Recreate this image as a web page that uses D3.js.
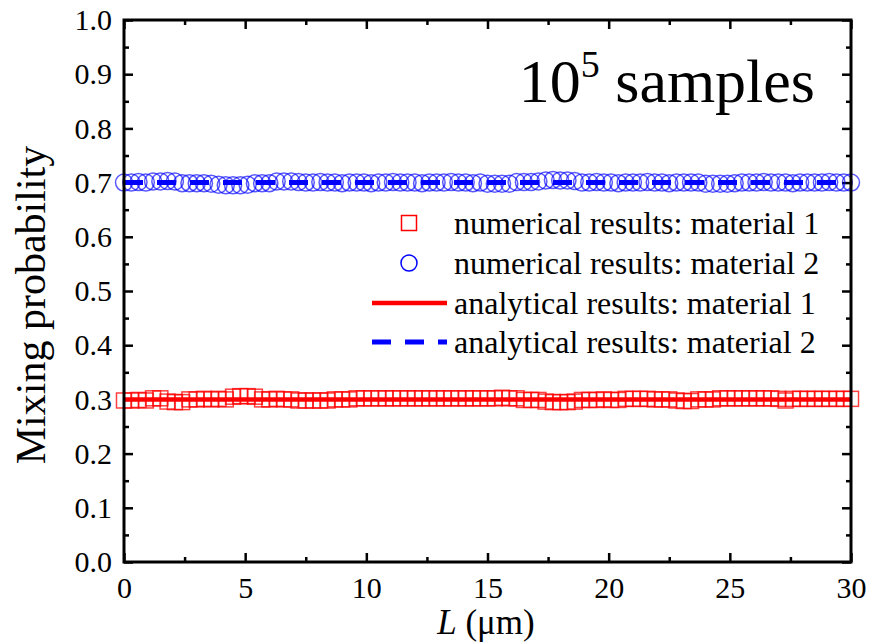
<!DOCTYPE html>
<html>
<head>
  <meta charset="utf-8">
  <script src="https://d3js.org/d3.v7.min.js"></script>
  <style>
    body { margin: 0; background: #fff; }
    text { font-family: "Liberation Serif", "Times New Roman", serif; fill: #000; }
  </style>
</head>
<body>
<svg id="chart" width="869" height="642"></svg>
<script>
// L (um) sample positions
var lValues = [0, 0.3, 0.6, 0.9, 1.2, 1.5, 1.8, 2.1, 2.4, 2.7, 3, 3.3, 3.6, 3.9, 4.2, 4.5, 4.8, 5.1, 5.4, 5.7,
  6, 6.3, 6.6, 6.9, 7.2, 7.5, 7.8, 8.1, 8.4, 8.7, 9, 9.3, 9.6, 9.9, 10.2, 10.5, 10.8, 11.1, 11.4, 11.7,
  12, 12.3, 12.6, 12.9, 13.2, 13.5, 13.8, 14.1, 14.4, 14.7, 15, 15.3, 15.6, 15.9, 16.2, 16.5, 16.8, 17.1, 17.4, 17.7,
  18, 18.3, 18.6, 18.9, 19.2, 19.5, 19.8, 20.1, 20.4, 20.7, 21, 21.3, 21.6, 21.9, 22.2, 22.5, 22.8, 23.1, 23.4, 23.7,
  24, 24.3, 24.6, 24.9, 25.2, 25.5, 25.8, 26.1, 26.4, 26.7, 27, 27.3, 27.6, 27.9, 28.2, 28.5, 28.8, 29.1, 29.4, 29.7, 30];

// numerical results, material 1 (squares)
var numMat1 = [0.298, 0.298, 0.299, 0.298, 0.302, 0.302, 0.296, 0.295, 0.295, 0.300, 0.300, 0.301, 0.300, 0.301, 0.300,
  0.305, 0.306, 0.306, 0.305, 0.300, 0.300, 0.301, 0.300, 0.300, 0.298, 0.298, 0.298, 0.298, 0.298, 0.300,
  0.300, 0.300, 0.302, 0.302, 0.302, 0.302, 0.302, 0.302, 0.302, 0.302, 0.302, 0.302, 0.302, 0.302, 0.302,
  0.302, 0.302, 0.302, 0.302, 0.302, 0.302, 0.302, 0.303, 0.302, 0.302, 0.299, 0.299, 0.299, 0.296, 0.295,
  0.295, 0.295, 0.296, 0.299, 0.299, 0.299, 0.300, 0.299, 0.299, 0.301, 0.301, 0.301, 0.301, 0.300, 0.300,
  0.300, 0.298, 0.297, 0.297, 0.300, 0.300, 0.300, 0.302, 0.302, 0.302, 0.302, 0.302, 0.302, 0.302, 0.302,
  0.301, 0.298, 0.301, 0.301, 0.301, 0.301, 0.301, 0.301, 0.301, 0.301, 0.301];

// numerical results, material 2 (circles)
var numMat2 = [0.700, 0.700, 0.701, 0.700, 0.702, 0.702, 0.703, 0.702, 0.699, 0.699, 0.699, 0.699, 0.698, 0.696, 0.695,
  0.695, 0.695, 0.696, 0.699, 0.699, 0.699, 0.702, 0.702, 0.702, 0.701, 0.700, 0.700, 0.701, 0.700, 0.700,
  0.699, 0.700, 0.700, 0.700, 0.699, 0.700, 0.700, 0.701, 0.700, 0.700, 0.700, 0.699, 0.700, 0.700, 0.700,
  0.701, 0.700, 0.700, 0.699, 0.700, 0.698, 0.698, 0.698, 0.698, 0.701, 0.701, 0.701, 0.702, 0.704, 0.705,
  0.704, 0.704, 0.703, 0.700, 0.700, 0.701, 0.700, 0.700, 0.699, 0.700, 0.700, 0.700, 0.701, 0.700, 0.700,
  0.699, 0.700, 0.700, 0.700, 0.700, 0.698, 0.698, 0.698, 0.698, 0.699, 0.700, 0.700, 0.700, 0.701, 0.700,
  0.700, 0.700, 0.699, 0.700, 0.700, 0.700, 0.700, 0.701, 0.700, 0.700, 0.700];

// analytical results
var anaL = [0, 30];
var anaMat1 = [0.3, 0.3];
var anaMat2 = [0.7, 0.7];

var xMajor = [0, 5, 10, 15, 20, 25, 30];
var xMinor = [2.5, 7.5, 12.5, 17.5, 22.5, 27.5];
var yMajor = [0, 0.1, 0.2, 0.3, 0.4, 0.5, 0.6, 0.7, 0.8, 0.9, 1.0];
var yMinor = [0.05, 0.15, 0.25, 0.35, 0.45, 0.55, 0.65, 0.75, 0.85, 0.95];

var legendLabels = ["numerical results: material 1", "numerical results: material 2",
  "analytical results: material 1", "analytical results: material 2"];

var red = "#ff0000", blue = "#0000ff";
var mLeft = 124, mRight = 851, mTop = 20, mBottom = 562;

var svg = d3.select("#chart");
var x = d3.scaleLinear().domain([0, 30]).range([mLeft, mRight]);
var y = d3.scaleLinear().domain([0, 1]).range([mBottom, mTop]);

// ticks (inward, mirrored on all sides)
function styleAxis(g) {
  g.select(".domain").remove();
  g.selectAll("line").attr("stroke", "#000").attr("stroke-width", 2.5);
  g.selectAll("text").style("font-size", "30px").attr("fill", "#000");
}
svg.append("g").attr("transform", "translate(0," + mBottom + ")")
  .call(d3.axisBottom(x).tickValues(xMajor).tickSizeInner(-9).tickSizeOuter(0).tickPadding(15).tickFormat(d3.format("d")))
  .call(styleAxis);
svg.append("g").attr("transform", "translate(0," + mBottom + ")")
  .call(d3.axisBottom(x).tickValues(xMinor).tickSizeInner(-5).tickSizeOuter(0).tickFormat(""))
  .call(styleAxis);
svg.append("g").attr("transform", "translate(0," + mTop + ")")
  .call(d3.axisTop(x).tickValues(xMajor).tickSizeInner(-9).tickSizeOuter(0).tickFormat(""))
  .call(styleAxis);
svg.append("g").attr("transform", "translate(0," + mTop + ")")
  .call(d3.axisTop(x).tickValues(xMinor).tickSizeInner(-5).tickSizeOuter(0).tickFormat(""))
  .call(styleAxis);
svg.append("g").attr("transform", "translate(" + mLeft + ",0)")
  .call(d3.axisLeft(y).tickValues(yMajor).tickSizeInner(-9).tickSizeOuter(0).tickPadding(12).tickFormat(d3.format(".1f")))
  .call(styleAxis);
svg.append("g").attr("transform", "translate(" + mLeft + ",0)")
  .call(d3.axisLeft(y).tickValues(yMinor).tickSizeInner(-5).tickSizeOuter(0).tickFormat(""))
  .call(styleAxis);
svg.append("g").attr("transform", "translate(" + mRight + ",0)")
  .call(d3.axisRight(y).tickValues(yMajor).tickSizeInner(-9).tickSizeOuter(0).tickFormat(""))
  .call(styleAxis);
svg.append("g").attr("transform", "translate(" + mRight + ",0)")
  .call(d3.axisRight(y).tickValues(yMinor).tickSizeInner(-5).tickSizeOuter(0).tickFormat(""))
  .call(styleAxis);

// data
var plot = svg.append("g");
var sq = 15;
plot.selectAll("rect.m1").data(lValues).enter().append("rect")
  .attr("x", function(d) { return x(d) - sq / 2; })
  .attr("y", function(d, i) { return y(numMat1[i]) - sq / 2; })
  .attr("width", sq).attr("height", sq)
  .attr("fill", "none").attr("stroke", red).attr("stroke-width", 1.5).attr("stroke-opacity", 0.75);

var line = d3.line().x(function(d) { return x(d[0]); }).y(function(d) { return y(d[1]); });
plot.append("path").datum(d3.zip(anaL, anaMat1)).attr("d", line)
  .attr("fill", "none").attr("stroke", red).attr("stroke-width", 4.5);

plot.selectAll("circle.m2").data(lValues).enter().append("circle")
  .attr("cx", function(d) { return x(d); })
  .attr("cy", function(d, i) { return y(numMat2[i]); })
  .attr("r", 8.5)
  .attr("fill", "none").attr("stroke", blue).attr("stroke-width", 1.5).attr("stroke-opacity", 0.65);

plot.append("path").datum(d3.zip(anaL, anaMat2)).attr("d", line)
  .attr("fill", "none").attr("stroke", blue).attr("stroke-width", 5).attr("stroke-dasharray", "19,14");

// frame
svg.append("rect").attr("x", mLeft).attr("y", mTop).attr("width", mRight - mLeft).attr("height", mBottom - mTop)
  .attr("fill", "none").attr("stroke", "#000").attr("stroke-width", 3);

// axis titles
svg.append("text").attr("x", 486).attr("y", 634).attr("text-anchor", "middle").style("font-size", "35px")
  .html('<tspan font-style="italic">L</tspan> (\u03bcm)');
svg.append("text").attr("transform", "translate(45,305) rotate(-90)").attr("text-anchor", "middle")
  .style("font-size", "42px").text("Mixing probability");

// annotation
svg.append("text").attr("x", 815).attr("y", 102).attr("text-anchor", "end").style("font-size", "62px")
  .html('10<tspan font-size="38px" dy="-25">5</tspan><tspan dy="25"> samples</tspan>');

// legend
var lg = svg.append("g");
var rows = [223, 263, 303, 342];
lg.append("rect").attr("x", 409 - 7.5).attr("y", rows[0] - 7.5).attr("width", 15).attr("height", 15)
  .attr("fill", "none").attr("stroke", red).attr("stroke-width", 1.5);
lg.append("circle").attr("cx", 409).attr("cy", rows[1]).attr("r", 8)
  .attr("fill", "none").attr("stroke", blue).attr("stroke-width", 1.5);
lg.append("line").attr("x1", 372).attr("x2", 447).attr("y1", rows[2]).attr("y2", rows[2])
  .attr("stroke", red).attr("stroke-width", 4.5);
lg.append("line").attr("x1", 372).attr("x2", 447).attr("y1", rows[3]).attr("y2", rows[3])
  .attr("stroke", blue).attr("stroke-width", 5).attr("stroke-dasharray", "19,14");
lg.selectAll("text").data(legendLabels).enter().append("text")
  .attr("x", 454).attr("y", function(d, i) { return rows[i] + 11; })
  .style("font-size", "32px").text(function(d) { return d; });
</script>
</body>
</html>
